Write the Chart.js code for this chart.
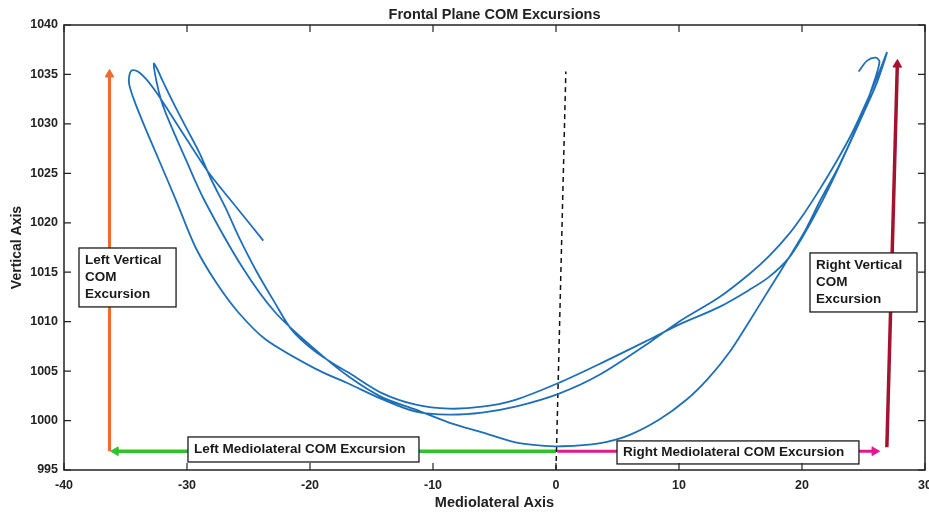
<!DOCTYPE html>
<html>
<head>
<meta charset="utf-8">
<script src="https://cdn.jsdelivr.net/npm/chart.js@4.4.1/dist/chart.umd.min.js"></script>
<style>
    html, body { margin: 0; padding: 0; background: #fff; }
    #wrap { width: 929px; height: 514px; }
</style>
</head>
<body>
<div id="wrap"><canvas id="comChart"></canvas></div>
<script>
// COM path (mediolateral, vertical)
const stride1X = [24.6, 25.3, 26.0, 26.3, 25.9, 25.1, 24.0, 22.9, 21.5, 20.3, 18.9, 17.3, 15.7, 14.1, 12.4, 10.6, 8.4, 5.9, 3.5, 0.5,
    -1.4, -3.3, -6.0, -8.7, -11.4, -14.2, -16.8, -19.5, -22.8, -25.5, -28.6, -30.1, -31.5, -32.1, -32.5, -32.7];
const stride1Y = [1035.3, 1036.4, 1036.7, 1036.3, 1034.4, 1031.6, 1028.4, 1025.5, 1022.3, 1019.3, 1016.4, 1013.2, 1010.0, 1006.9, 1004.3, 1002.1, 1000.1, 998.5, 997.7, 997.4,
    997.5, 997.8, 998.8, 999.8, 1001.1, 1002.4, 1004.4, 1007.1, 1010.9, 1015.5, 1022.3, 1026.4, 1030.4, 1032.4, 1034.4, 1036.1];

const stride2X = [-32.4, -32.0, -31.1, -30.1, -29.0, -28.0, -26.9, -25.8, -24.4, -22.9, -21.5, -19.7, -17.9, -16.8, -14.2, -11.4, -8.7,
    -6.0, -3.3, 0.2, 3.5, 7.6, 10.0, 13.3, 15.7, 17.3, 18.9, 20.2, 21.4, 22.6, 23.8, 25.0, 26.1, 26.9];
const stride2Y = [1035.5, 1034.4, 1032.1, 1029.7, 1027.1, 1024.3, 1021.6, 1018.6, 1015.2, 1012.0, 1009.2, 1007.1, 1005.6, 1004.8, 1002.8, 1001.6, 1001.2,
    1001.4, 1002.1, 1003.8, 1005.7, 1008.2, 1009.7, 1011.5, 1013.2, 1014.5, 1016.4, 1018.9, 1021.6, 1024.6, 1027.8, 1031.1, 1034.2, 1037.2];

const stride3X = [26.3, 25.2, 24.0, 22.8, 21.4, 20.2, 18.9, 17.3, 15.7, 13.3, 10.0, 7.6, 3.5, 0.2, -3.3, -6.0, -8.7, -11.4, -14.2, -16.8,
    -19.5, -23.6, -25.8, -27.6, -29.3, -30.9, -32.3, -33.5, -34.3, -34.7, -34.7, -34.5, -34.0, -33.3, -32.5, -31.7, -30.0, -28.2, -26.0, -23.8];
const stride3Y = [1035.3, 1032.1, 1028.9, 1026.2, 1023.3, 1021.0, 1018.8, 1016.6, 1014.8, 1012.5, 1010.0, 1007.9, 1004.6, 1002.7, 1001.4, 1000.8, 1000.6, 1000.9, 1002.2, 1003.7,
    1005.2, 1008.2, 1010.9, 1013.9, 1017.5, 1022.3, 1026.4, 1029.9, 1032.4, 1034.0, 1034.8, 1035.4, 1035.3, 1034.5, 1033.2, 1031.7, 1028.4, 1025.0, 1021.6, 1018.2];

// excursion arrows (start, head)
const leftVertX = [-36.3, -36.3];
const leftVertY = [996.9, 1035.0];
const leftMedX = [0, -35.8];
const leftMedY = [996.9, 996.9];
const rightMedX = [0.1, 25.9];
const rightMedY = [996.9, 996.9];
const rightVertX = [26.9, 27.75];
const rightVertY = [997.3, 1036.0];
const midlineX = [0, 0.8];
const midlineY = [995, 1035.3];

const xTicks = [-40, -30, -20, -10, 0, 10, 20, 30];
const yTicks = [995, 1000, 1005, 1010, 1015, 1020, 1025, 1030, 1035, 1040];

const chartTitle = "Frontal Plane COM Excursions";
const boxTexts = [
    ["Left Vertical", "COM", "Excursion"],
    ["Left Mediolateral COM Excursion"],
    ["Right Mediolateral COM Excursion"],
    ["Right Vertical", "COM", "Excursion"]
];
// box corners in axis units: [x0, y0, x1, y1]
const boxCorners = [
    [-38.78, 1017.45, -30.89, 1011.49],
    [-29.92, 998.34, -11.14, 995.81],
    [4.96, 997.94, 24.63, 995.61],
    [20.65, 1016.95, 29.35, 1010.98]
];

const FONT = "'Liberation Sans', Arial, Helvetica, sans-serif";
const INK = "#222";

const pts = (xs, ys) => xs.map((x, i) => ({ x, y: ys[i] }));

function arrow(xs, ys, color, width, rot) {
    return {
        data: pts(xs, ys),
        showLine: true,
        borderColor: color,
        backgroundColor: color,
        borderWidth: width,
        pointRadius: [0, 5],
        pointBorderWidth: 1,
        pointBorderColor: color,
        pointStyle: "triangle",
        rotation: [0, rot],
        tension: 0
    };
}

/* frame, inward ticks, title and the label boxes */
const framePlugin = {
    id: "frame",
    afterDatasetsDraw(chart) {
        const { ctx, chartArea: a, scales: { x, y } } = chart;
        ctx.save();

        boxTexts.forEach((lines, i) => {
            const c = boxCorners[i];
            const x0 = x.getPixelForValue(c[0]), y0 = y.getPixelForValue(c[1]);
            const x1 = x.getPixelForValue(c[2]), y1 = y.getPixelForValue(c[3]);
            ctx.fillStyle = "#fff";
            ctx.fillRect(x0, y0, x1 - x0, y1 - y0);
            ctx.strokeStyle = "#1a1a1a";
            ctx.lineWidth = 1.3;
            ctx.strokeRect(x0, y0, x1 - x0, y1 - y0);
            ctx.fillStyle = "#1a1a1a";
            ctx.font = "bold 13.5px " + FONT;
            ctx.textAlign = "left";
            ctx.textBaseline = "middle";
            const mid = (y0 + y1) / 2;
            lines.forEach((t, k) => {
                ctx.fillText(t, x0 + 6, mid + (k - (lines.length - 1) / 2) * 17);
            });
        });

        ctx.strokeStyle = INK;
        ctx.lineWidth = 1.5;
        ctx.strokeRect(a.left, a.top, a.right - a.left, a.bottom - a.top);

        ctx.lineWidth = 1.2;
        ctx.beginPath();
        x.ticks.forEach(t => {
            const px = x.getPixelForValue(t.value);
            ctx.moveTo(px, a.bottom); ctx.lineTo(px, a.bottom - 7);
            ctx.moveTo(px, a.top); ctx.lineTo(px, a.top + 7);
        });
        y.ticks.forEach(t => {
            const py = y.getPixelForValue(t.value);
            ctx.moveTo(a.left, py); ctx.lineTo(a.left + 7, py);
            ctx.moveTo(a.right, py); ctx.lineTo(a.right - 7, py);
        });
        ctx.stroke();

        ctx.fillStyle = INK;
        ctx.font = "bold 14.5px " + FONT;
        ctx.textAlign = "center";
        ctx.textBaseline = "middle";
        ctx.fillText(chartTitle, (a.left + a.right) / 2, 15);
        ctx.restore();
    }
};

new Chart(document.getElementById("comChart"), {
    type: "scatter",
    data: {
        datasets: [
            {
                data: pts(stride1X.concat(stride2X, stride3X), stride1Y.concat(stride2Y, stride3Y)),
                showLine: true,
                borderColor: "#1f6fb8",
                borderWidth: 1.8,
                pointRadius: 0,
                tension: 0.3
            },
            {
                data: pts(midlineX, midlineY),
                showLine: true,
                borderColor: "#111",
                borderWidth: 1.5,
                borderDash: [5, 4],
                pointRadius: 0
            },
            arrow(leftVertX, leftVertY, "#f26a2e", 3, 0),
            arrow(leftMedX, leftMedY, "#2bc42b", 3.5, -90),
            arrow(rightMedX, rightMedY, "#e3188c", 3, 90),
            arrow(rightVertX, rightVertY, "#a3122f", 3.5, 1.4)
        ]
    },
    options: {
        responsive: true,
        maintainAspectRatio: false,
        animation: false,
        events: [],
        layout: { autoPadding: false, padding: { left: 0, right: 4, top: 25, bottom: 0 } },
        plugins: {
            legend: { display: false },
            tooltip: { enabled: false },
            title: { display: false }
        },
        scales: {
            x: {
                type: "linear",
                min: -40,
                max: 30,
                afterBuildTicks: s => { s.ticks = xTicks.map(v => ({ value: v })); },
                afterFit: s => { s.height = 44; s.paddingLeft = 0; s.paddingRight = 0; },
                grid: { display: false, drawTicks: false },
                border: { display: false },
                ticks: { color: INK, padding: 8, callback: v => String(v), font: { family: FONT, size: 12.5, weight: "bold" } },
                title: {
                    display: true,
                    text: "Mediolateral Axis",
                    color: INK,
                    font: { family: FONT, size: 14.5, weight: "bold" },
                    padding: { top: 0, bottom: 2 }
                }
            },
            y: {
                type: "linear",
                min: 995,
                max: 1040,
                afterBuildTicks: s => { s.ticks = yTicks.map(v => ({ value: v })); },
                afterFit: s => { s.width = 64; s.paddingTop = 0; s.paddingBottom = 0; },
                grid: { display: false, drawTicks: false },
                border: { display: false },
                ticks: { color: INK, padding: 6, callback: v => String(v), font: { family: FONT, size: 12.5, weight: "bold" } },
                title: {
                    display: true,
                    text: "Vertical Axis",
                    color: INK,
                    font: { family: FONT, size: 14, weight: "bold" },
                    padding: { top: 9, bottom: 0 }
                }
            }
        }
    },
    plugins: [framePlugin]
});
</script>
</body>
</html>
